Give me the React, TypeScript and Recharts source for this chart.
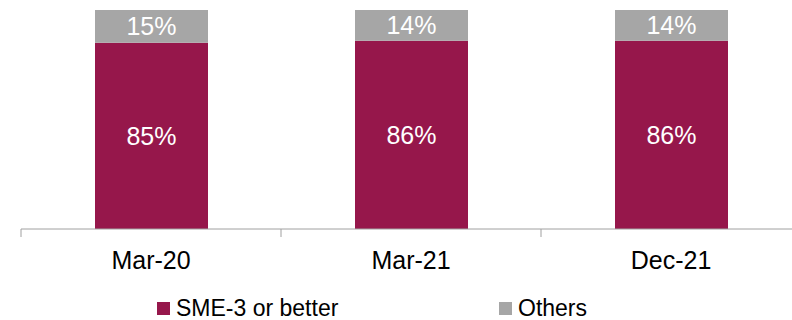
import { BarChart, Bar, XAxis, YAxis, LabelList } from 'recharts';

const periods = ['Mar-20', 'Mar-21', 'Dec-21'];
const smeBetter = [85, 86, 86];
const others = [15, 14, 14];

const MAROON = '#96174B';
const GREY = '#A6A6A6';
const FONT = '"Liberation Sans", Arial, sans-serif';

const data = periods.map((p, i) => ({ period: p, sme: smeBetter[i], others: others[i] }));

const CHART_W = 801;
const AXIS_H = 30;
const MARGIN = { top: 10, right: 0, bottom: 91 - AXIS_H, left: 21 };
const BAND = (CHART_W - MARGIN.left - MARGIN.right) / periods.length;

function PeriodTick(props: any) {
  const { x, y, payload, index } = props;
  const left = x - BAND / 2;
  const right = x + BAND / 2;
  return (
    <g>
      <line x1={left} x2={left} y1={y} y2={y + 8} stroke="#A0A0A0" strokeWidth={1} />
      {index === periods.length - 1 && (
        <line x1={right} x2={right} y1={y} y2={y + 8} stroke="#A0A0A0" strokeWidth={1} />
      )}
      <text x={x} y={y + 40} textAnchor="middle" fill="#000" fontSize={25} fontFamily={FONT}>
        {payload.value}
      </text>
    </g>
  );
}

const legendItems = [
  { label: 'SME-3 or better', color: MAROON, left: 157 },
  { label: 'Others', color: GREY, left: 499 },
];

function ChartLegend() {
  return (
    <div style={{ position: 'absolute', left: 0, top: 296, width: 792, height: 24 }}>
      {legendItems.map((it) => (
        <div
          key={it.label}
          style={{
            position: 'absolute',
            left: it.left,
            top: 0,
            display: 'flex',
            alignItems: 'center',
            fontFamily: FONT,
            fontSize: 23,
            color: '#000',
            whiteSpace: 'nowrap',
            lineHeight: '24px',
          }}
        >
          <span style={{ display: 'inline-block', width: 13, height: 13, background: it.color, marginRight: 6 }} />
          {it.label}
        </div>
      ))}
    </div>
  );
}

export default function App() {
  return (
    <div style={{ position: 'absolute', left: 0, top: 0, width: 792, height: 320, overflow: 'hidden', background: '#fff' }}>
      <BarChart width={CHART_W} height={320} data={data} margin={MARGIN} barSize={113}>
        <XAxis
          dataKey="period"
          height={AXIS_H}
          axisLine={{ stroke: '#A0A0A0', strokeWidth: 1 }}
          tickLine={false}
          tickSize={0}
          tickMargin={0}
          tick={<PeriodTick />}
          interval={0}
        />
        <YAxis hide domain={[0, 100]} />
        <Bar dataKey="sme" name="SME-3 or better" stackId="a" fill={MAROON} isAnimationActive={false}>
          <LabelList dataKey="sme" position="center" fill="#fff" fontSize={25} fontFamily={FONT} formatter={(v: any) => `${v}%`} />
        </Bar>
        <Bar dataKey="others" name="Others" stackId="a" fill={GREY} isAnimationActive={false}>
          <LabelList dataKey="others" position="center" fill="#fff" fontSize={25} fontFamily={FONT} formatter={(v: any) => `${v}%`} />
        </Bar>
      </BarChart>
      <ChartLegend />
    </div>
  );
}
